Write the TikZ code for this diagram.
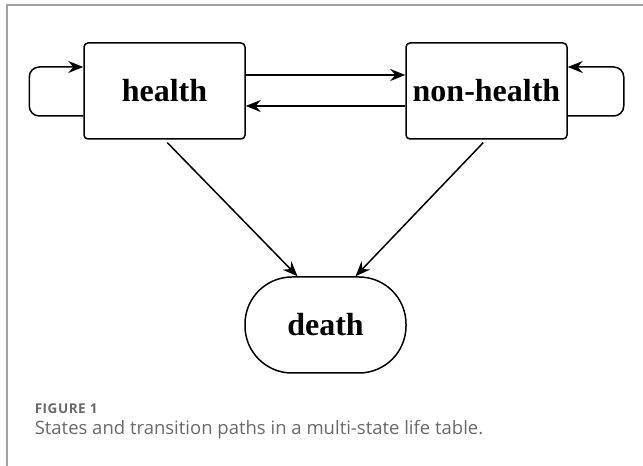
\documentclass[tikz,border=0pt]{standalone}
\usepackage{fontspec}
\setmainfont{Liberation Serif}
\newfontfamily\capfont{Open Sans}
\newfontfamily\figfont[LetterSpace=4]{Open Sans}
\usetikzlibrary{arrows.meta,shapes,positioning}

\definecolor{framegray}{RGB}{160,160,160}
\definecolor{capgray}{RGB}{105,105,105}

\begin{document}
\begin{tikzpicture}[x=1pt, y=1pt, line width=1.5pt,
        >={Stealth[length=15pt, width=12pt, inset=5pt]},
        state/.style={draw, rectangle, rounded corners=4pt, minimum width=161pt,
            minimum height=96pt, inner sep=0pt, font=\fontsize{32}{32}\selectfont\bfseries},
        absorb/.style={state, rounded corners=47pt},
        figlabel/.style={anchor=base west, inner sep=0pt, text=capgray}]
                \useasboundingbox (0,0) rectangle (643,466);
                \draw[framegray, line width=2pt] (7,0) -- (7,461) -- (643,461);

                \node[state] (health) at (164.5,375) {health};
                \node[state] (nonhealth) at (486.5,375) {non-health};
                \node[absorb] (death) at (325.5,141) {death};

                % transitions between the two living states
                \draw[->] ([yshift=16pt]health.east) -- ([yshift=16pt]nonhealth.west);
                \draw[->] ([yshift=-15pt]nonhealth.west) -- ([yshift=-15pt]health.east);

                % staying in the same state
                \draw[->, rounded corners=10pt] ([yshift=-25pt]health.west) -- ++(-54,0) |- ([yshift=24pt]health.west);
                \draw[->, rounded corners=10pt] ([yshift=-25pt]nonhealth.east) -- ++(56,0) |- ([yshift=24pt]nonhealth.east);

                % dying
                \draw[->, shorten <=4pt] (health.south) -- ([xshift=-28pt]death.north);
                \draw[->, shorten <=4pt] ([xshift=-0.5pt]nonhealth.south) -- ([xshift=30pt]death.north);

                \node[figlabel, font=\figfont\bfseries\fontsize{13.5}{15}\selectfont] (fig) at (34,52) {FIGURE 1};
                \node[figlabel, font=\capfont\fontsize{18.5}{21}\selectfont] (cap) at (34,31) {States and transition paths in a multi-state life table.};
            \end{tikzpicture}
\end{document}
